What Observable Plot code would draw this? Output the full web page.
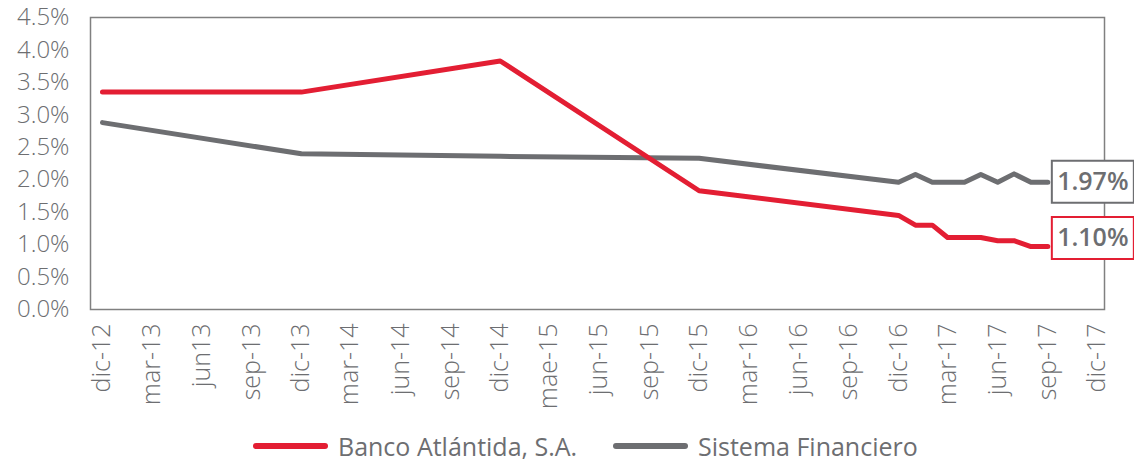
<!DOCTYPE html>
<html>
<head>
<meta charset="utf-8">
<script src="https://cdn.jsdelivr.net/npm/d3@7"></script>
<script src="https://cdn.jsdelivr.net/npm/@observablehq/plot@0.6"></script>
<style>
  html, body { margin: 0; padding: 0; background: #fff; }
  #chart svg { display: block; overflow: visible; }
  .legend { position: relative; height: 35px; font-family: "Open Sans", sans-serif; font-size: 25px; color: #6d6e71; }
  .item { position: absolute; top: 0; display: flex; align-items: center; height: 35px; white-space: nowrap; }
  .swatch { width: 75px; height: 6px; border-radius: 3px; margin-right: 10px; }
</style>
</head>
<body>
<div id="chart"></div>
<div class="legend" id="legend"></div>
<script>
// ---- data ----
const dates = ["2012-12","2013-12","2014-12","2015-12","2016-12","2017-01","2017-02","2017-03","2017-04","2017-05","2017-06","2017-07","2017-08","2017-09"];
const banco   = [3.35, 3.35, 3.83, 1.83, 1.45, 1.30, 1.30, 1.11, 1.11, 1.11, 1.06, 1.06, 0.97, 0.97];
const sistema = [2.88, 2.40, 2.36, 2.33, 1.96, 2.08, 1.96, 1.96, 1.96, 2.08, 1.96, 2.09, 1.96, 1.96];
const seriesNames = ["Banco Atlántida, S.A.", "Sistema Financiero"];
const seriesColors = ["#e31e33", "#6d6e71"];
const endLabels = ["1.10%", "1.97%"];
const endValues = [1.10, 1.97];
const tickMonths = ["2012-12","2013-03","2013-06","2013-09","2013-12","2014-03","2014-06","2014-09","2014-12","2015-03","2015-06","2015-09","2015-12","2016-03","2016-06","2016-09","2016-12","2017-03","2017-06","2017-09","2017-12"];
const tickLabels = ["dic-12","mar-13","jun13","sep-13","dic-13","mar-14","jun-14","sep-14","dic-14","mae-15","jun-15","sep-15","dic-15","mar-16","jun-16","sep-16","dic-16","mar-17","jun-17","sep-17","dic-17"];
const yTicks = [0, 0.5, 1, 1.5, 2, 2.5, 3, 3.5, 4, 4.5];

// ---- build ----
const parse = d3.utcParse("%Y-%m");
const bancoRows = dates.map((d, i) => ({date: parse(d), value: banco[i]}));
const sistemaRows = dates.map((d, i) => ({date: parse(d), value: sistema[i]}));
const tickDates = tickMonths.map(parse);
const labelOf = new Map(tickDates.map((d, i) => [+d, tickLabels[i]]));
const lastDate = parse(dates[dates.length - 1]);
const endRows = endLabels.map((t, i) => ({date: lastDate, value: endValues[i], text: t, color: seriesColors[i]}));

const boxSymbol = { draw(ctx) { ctx.rect(-41, -21, 82, 42); } };

const chart = Plot.plot({
  width: 1134,
  height: 428,
  marginTop: 17,
  marginLeft: 90,
  marginRight: 30,
  marginBottom: 119,
  style: {fontFamily: "'Open Sans', sans-serif", fontSize: "24px", color: "#6d6e71", background: "#fff"},
  x: {type: "utc", label: null, domain: [d3.utcDay.offset(tickDates[0], -22), d3.utcDay.offset(tickDates[tickDates.length - 1], 13)]},
  y: {label: null, domain: [0, 4.5]},
  marks: [
    Plot.axisY({ticks: yTicks, tickFormat: d => d.toFixed(1) + "%", tickSize: 0, tickPadding: 21, fontWeight: 300, label: null}),
    Plot.axisX({ticks: tickDates, tickFormat: d => labelOf.get(+d), tickRotate: -90, tickSize: 0, tickPadding: 14, fontWeight: 300, fontSize: 25, label: null}),
    Plot.frame({stroke: "#808080", strokeWidth: 1.5}),
    Plot.line(sistemaRows, {x: "date", y: "value", stroke: seriesColors[1], strokeWidth: 5, strokeLinejoin: "round", strokeLinecap: "round"}),
    Plot.line(bancoRows, {x: "date", y: "value", stroke: seriesColors[0], strokeWidth: 5, strokeLinejoin: "round", strokeLinecap: "round"}),
    Plot.dot(endRows, {x: "date", y: "value", symbol: boxSymbol, r: 5, fill: "#fff", stroke: "color", strokeWidth: 2, dx: 45}),
    Plot.text(endRows, {x: "date", y: "value", text: "text", dx: 45, fontSize: 25, fontWeight: 600, fill: "#6d6e71"})
  ]
});
document.getElementById("chart").appendChild(chart);

// ---- legend ----
const legend = document.getElementById("legend");
const lefts = [253, 613];
seriesNames.forEach((name, i) => {
  const item = document.createElement("div");
  item.className = "item";
  item.style.left = lefts[i] + "px";
  const sw = document.createElement("div");
  sw.className = "swatch";
  sw.style.background = seriesColors[i];
  const tx = document.createElement("span");
  tx.textContent = name;
  item.appendChild(sw);
  item.appendChild(tx);
  legend.appendChild(item);
});
</script>
</body>
</html>
